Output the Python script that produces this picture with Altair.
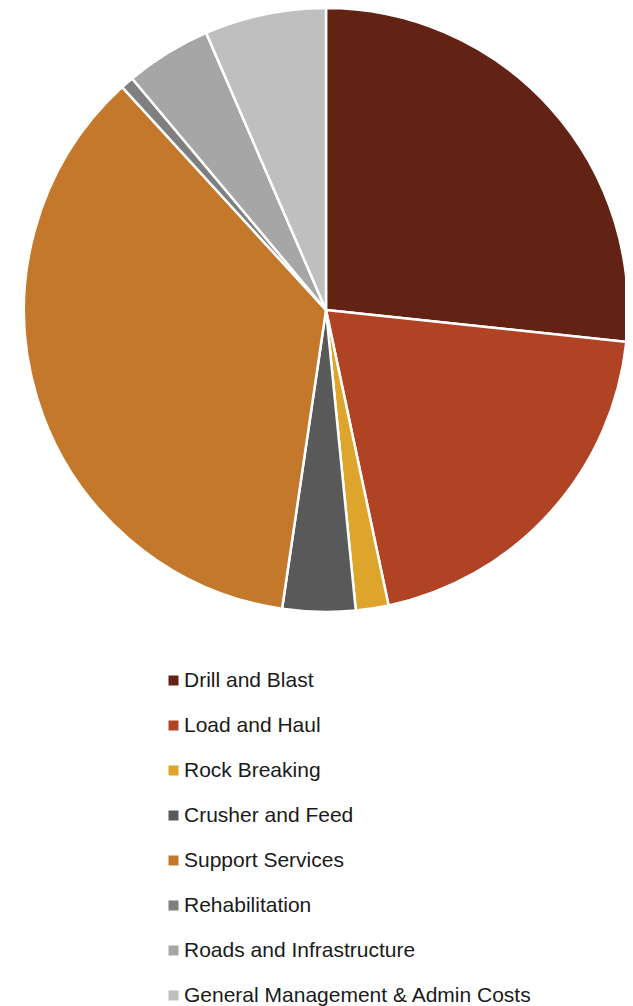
import altair as alt
import pandas as pd

categories = ["Drill and Blast", "Load and Haul", "Rock Breaking", "Crusher and Feed",
              "Support Services", "Rehabilitation", "Roads and Infrastructure",
              "General Management & Admin Costs"]
values = [26.7, 20.0, 1.75, 3.9, 35.9, 0.7, 4.6, 6.5]
colors = ["#632314", "#B04323", "#DDA52B", "#595959", "#C4782C", "#7F7F7F", "#A6A6A6", "#BFBFBF"]

df = pd.DataFrame({"category": categories, "value": values, "order": list(range(len(categories)))})

chart = alt.Chart(df).mark_arc(stroke="white", strokeWidth=2.5, radius=302).encode(
    theta=alt.Theta("value:Q", stack=True),
    order=alt.Order("order:Q"),
    x=alt.value(318),
    y=alt.value(302),
    color=alt.Color("category:N", sort=categories,
                    scale=alt.Scale(domain=categories, range=colors),
                    legend=alt.Legend(orient="none", legendX=155, legendY=662, title=None,
                                      symbolType="square", symbolSize=100, symbolStrokeWidth=0,
                                      labelFontSize=21, labelFont="Liberation Sans",
                                      labelColor="#1a1a1a", rowPadding=23, labelOffset=0,
                                      labelLimit=500)),
).properties(width=617, height=998, autosize=alt.AutoSizeParams(type="none"), padding=0
).configure_view(stroke=None)

chart.save("out.html", embed_options={"renderer": "svg", "actions": False})
